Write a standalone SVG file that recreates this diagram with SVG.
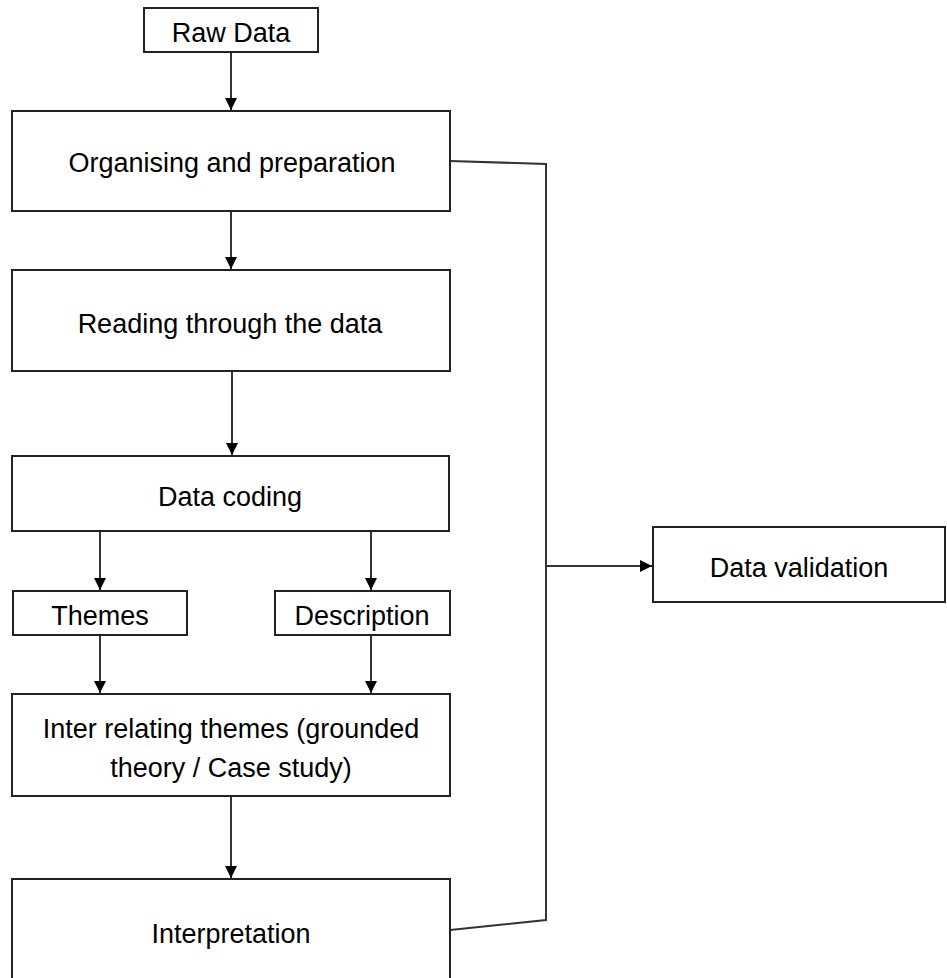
<svg xmlns="http://www.w3.org/2000/svg" width="947" height="978" viewBox="0 0 947 978">
<style>
.box{fill:#fff;stroke:#222;stroke-width:2}
.t{font-family:"Liberation Sans",Arial,sans-serif;font-size:27px;fill:#000;text-anchor:middle}
.c{fill:none;stroke:#333;stroke-width:2}
</style>
<defs>
<marker id="ah" viewBox="0 0 10 10" refX="10" refY="5" markerWidth="7" markerHeight="6" orient="auto" markerUnits="strokeWidth">
<path d="M0,0L10,5L0,10z" fill="#000"/>
</marker>
</defs>
<rect width="947" height="978" fill="#fff"/>
<g id="connectors">
<line class="c" x1="231" y1="52" x2="231" y2="110" marker-end="url(#ah)"/>
<line class="c" x1="231" y1="211" x2="231" y2="269" marker-end="url(#ah)"/>
<line class="c" x1="232" y1="371" x2="232" y2="455" marker-end="url(#ah)"/>
<line class="c" x1="100" y1="531" x2="100" y2="590" marker-end="url(#ah)"/>
<line class="c" x1="371" y1="531" x2="371" y2="590" marker-end="url(#ah)"/>
<line class="c" x1="100" y1="635" x2="100" y2="693" marker-end="url(#ah)"/>
<line class="c" x1="371" y1="635" x2="371" y2="693" marker-end="url(#ah)"/>
<line class="c" x1="231" y1="796" x2="231" y2="878" marker-end="url(#ah)"/>
<polyline class="c" points="450,161 546,164 546,920 450,930"/>
<line class="c" x1="546" y1="566" x2="652" y2="566" marker-end="url(#ah)"/>
</g>
<g id="raw-data"><rect class="box" x="144" y="8" width="174" height="44"/><text class="t" x="231" y="42">Raw Data</text></g>
<g id="organising"><rect class="box" x="12" y="111" width="438" height="100"/><text class="t" x="232" y="172">Organising and preparation</text></g>
<g id="reading"><rect class="box" x="12" y="270" width="438" height="101"/><text class="t" x="230" y="333">Reading through the data</text></g>
<g id="data-coding"><rect class="box" x="12" y="456" width="437" height="75"/><text class="t" x="230" y="506">Data coding</text></g>
<g id="themes"><rect class="box" x="13" y="591" width="174" height="44"/><text class="t" x="100" y="625">Themes</text></g>
<g id="description"><rect class="box" x="275" y="591" width="175" height="44"/><text class="t" x="362" y="625">Description</text></g>
<g id="inter-relating"><rect class="box" x="12" y="694" width="438" height="102"/><text class="t" x="231" y="738">Inter relating themes (grounded</text><text class="t" x="231" y="777">theory / Case study)</text></g>
<g id="interpretation"><rect class="box" x="12" y="879" width="438" height="110"/><text class="t" x="231" y="943">Interpretation</text></g>
<g id="data-validation"><rect class="box" x="653" y="527" width="292" height="75"/><text class="t" x="799" y="577">Data validation</text></g>
</svg>
